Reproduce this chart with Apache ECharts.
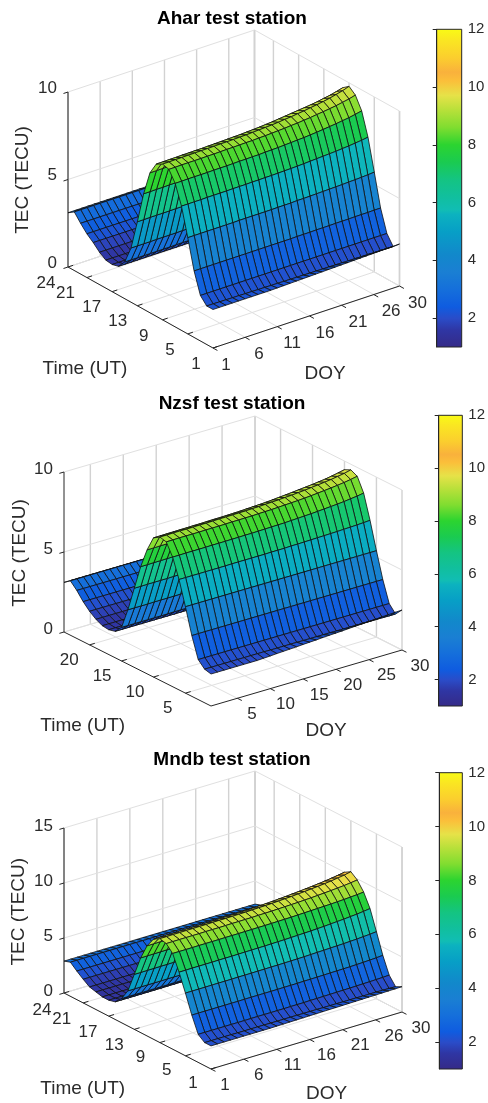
<!DOCTYPE html>
<html><head><meta charset="utf-8">
<style>html,body{margin:0;padding:0;background:#fff}#c{width:488px;height:1103px}</style>
<script src="https://cdn.jsdelivr.net/npm/echarts@6/dist/echarts.min.js"></script>
</head><body><div id="c"></div>
<script>
// TEC by hour (rows, 1..24 UT) and day of year (columns, 1..30)
const doyValues = [1,2,3,4,5,6,7,8,9,10,11,12,13,14,15,16,17,18,19,20,21,22,23,24,25,26,27,28,29,30];
const timeValues = [1,2,3,4,5,6,7,8,9,10,11,12,13,14,15,16,17,18,19,20,21,22,23,24];
const tecAhar = [
[2.2,2.2,2.2,2.2,2.2,2.2,2.2,2.2,2.2,2.2,2.21,2.22,2.23,2.24,2.25,2.26,2.27,2.28,2.29,2.3,2.31,2.32,2.33,2.34,2.35,2.36,2.37,2.38,2.39,2.4],
[2.2,2.2,2.19,2.19,2.18,2.18,2.17,2.17,2.16,2.16,2.15,2.15,2.14,2.14,2.13,2.13,2.12,2.12,2.11,2.11,2.1,2.1,2.09,2.09,2.08,2.08,2.07,2.07,2.06,2.05],
[2.6,2.6,2.6,2.6,2.6,2.6,2.6,2.6,2.6,2.6,2.6,2.6,2.6,2.6,2.6,2.6,2.6,2.6,2.6,2.6,2.6,2.6,2.6,2.6,2.6,2.6,2.6,2.6,2.6,2.6],
[3.8,3.8,3.8,3.8,3.8,3.8,3.8,3.8,3.8,3.8,3.8,3.8,3.8,3.8,3.8,3.8,3.81,3.81,3.81,3.82,3.82,3.82,3.83,3.83,3.83,3.84,3.84,3.84,3.85,3.85],
[5.5,5.5,5.5,5.5,5.5,5.5,5.5,5.5,5.51,5.51,5.51,5.51,5.51,5.51,5.52,5.52,5.52,5.54,5.54,5.55,5.56,5.57,5.58,5.59,5.6,5.62,5.63,5.65,5.67,5.7],
[7.1,7.1,7.1,7.1,7.11,7.11,7.11,7.11,7.12,7.12,7.12,7.13,7.13,7.14,7.14,7.15,7.16,7.17,7.18,7.2,7.22,7.24,7.26,7.28,7.3,7.33,7.36,7.4,7.44,7.5],
[8.2,8.2,8.21,8.21,8.21,8.21,8.22,8.22,8.22,8.23,8.24,8.24,8.25,8.25,8.27,8.28,8.29,8.31,8.33,8.35,8.37,8.4,8.43,8.47,8.51,8.55,8.6,8.65,8.72,8.8],
[8.8,8.8,8.81,8.81,8.81,8.81,8.82,8.82,8.83,8.84,8.84,8.85,8.86,8.86,8.88,8.89,8.91,8.93,8.95,8.98,9,9.04,9.07,9.12,9.16,9.21,9.26,9.33,9.4,9.5],
[8.9,8.9,8.91,8.91,8.92,8.92,8.93,8.93,8.94,8.95,8.95,8.96,8.97,8.98,9,9.02,9.04,9.06,9.09,9.13,9.16,9.21,9.25,9.31,9.36,9.42,9.49,9.58,9.67,9.8],
[8.7,8.7,8.71,8.71,8.72,8.72,8.73,8.73,8.74,8.75,8.76,8.77,8.78,8.79,8.81,8.83,8.85,8.88,8.91,8.95,8.99,9.03,9.07,9.11,9.15,9.2,9.27,9.33,9.42,9.52],
[8,8,8.01,8.01,8.02,8.02,8.03,8.03,8.04,8.05,8.06,8.07,8.08,8.09,8.11,8.13,8.15,8.18,8.21,8.25,8.29,8.34,8.39,8.45,8.51,8.58,8.66,8.75,8.86,8.95],
[6.6,6.6,6.61,6.61,6.62,6.62,6.63,6.63,6.64,6.65,6.65,6.66,6.67,6.68,6.7,6.72,6.74,6.76,6.79,6.83,6.86,6.91,6.95,7.01,7.06,7.12,7.19,7.28,7.37,7.5],
[4.8,4.8,4.81,4.81,4.81,4.81,4.82,4.82,4.83,4.84,4.84,4.85,4.86,4.86,4.88,4.89,4.91,4.93,4.95,4.98,5,5.04,5.07,5.12,5.16,5.21,5.26,5.33,5.4,5.5],
[3.1,3.1,3.1,3.1,3.11,3.11,3.11,3.11,3.12,3.12,3.12,3.13,3.13,3.14,3.14,3.15,3.16,3.17,3.18,3.2,3.22,3.24,3.26,3.28,3.3,3.33,3.36,3.4,3.44,3.5],
[2.1,2.1,2.1,2.1,2.1,2.1,2.1,2.1,2.11,2.11,2.11,2.11,2.11,2.11,2.12,2.12,2.12,2.14,2.14,2.15,2.16,2.17,2.18,2.19,2.2,2.22,2.23,2.25,2.27,2.3],
[1.65,1.65,1.65,1.65,1.65,1.65,1.65,1.65,1.65,1.65,1.65,1.65,1.65,1.65,1.65,1.66,1.66,1.67,1.67,1.68,1.68,1.69,1.69,1.7,1.7,1.71,1.72,1.73,1.74,1.75],
[1.55,1.55,1.55,1.55,1.55,1.55,1.55,1.55,1.55,1.55,1.55,1.55,1.55,1.55,1.55,1.55,1.55,1.55,1.55,1.55,1.55,1.55,1.55,1.55,1.55,1.55,1.55,1.55,1.55,1.55],
[1.6,1.6,1.6,1.6,1.6,1.6,1.6,1.6,1.6,1.6,1.6,1.6,1.6,1.6,1.6,1.6,1.6,1.6,1.6,1.6,1.6,1.6,1.6,1.6,1.6,1.6,1.6,1.6,1.6,1.6],
[1.85,1.85,1.85,1.85,1.85,1.85,1.85,1.85,1.85,1.85,1.85,1.85,1.85,1.85,1.85,1.85,1.85,1.85,1.85,1.85,1.85,1.85,1.85,1.85,1.85,1.85,1.85,1.85,1.85,1.85],
[2.2,2.2,2.2,2.2,2.2,2.2,2.2,2.2,2.2,2.2,2.2,2.2,2.2,2.2,2.2,2.2,2.2,2.2,2.2,2.2,2.2,2.2,2.2,2.2,2.2,2.2,2.2,2.2,2.2,2.2],
[2.5,2.5,2.5,2.5,2.5,2.5,2.5,2.5,2.5,2.5,2.5,2.5,2.5,2.5,2.5,2.5,2.5,2.5,2.5,2.5,2.5,2.5,2.5,2.5,2.5,2.5,2.5,2.5,2.5,2.5],
[2.9,2.9,2.9,2.9,2.9,2.9,2.9,2.9,2.9,2.9,2.9,2.9,2.9,2.9,2.9,2.9,2.9,2.9,2.9,2.9,2.9,2.9,2.9,2.9,2.9,2.9,2.9,2.9,2.9,2.9],
[3.35,3.35,3.35,3.35,3.35,3.35,3.35,3.35,3.35,3.35,3.35,3.35,3.35,3.35,3.35,3.35,3.35,3.35,3.35,3.35,3.35,3.35,3.35,3.35,3.35,3.35,3.35,3.35,3.35,3.35],
[3.1,3.1,3.1,3.1,3.1,3.1,3.1,3.1,3.1,3.1,3.1,3.1,3.1,3.1,3.1,3.1,3.1,3.1,3.1,3.1,3.1,3.1,3.1,3.1,3.1,3.1,3.1,3.1,3.1,3.1]
];
const tecNzsf = [
[2,2,2,2,2,2,2,2,2.02,2.04,2.07,2.09,2.11,2.13,2.16,2.18,2.2,2.23,2.25,2.27,2.29,2.32,2.34,2.36,2.39,2.41,2.44,2.46,2.48,2.5],
[2.1,2.1,2.1,2.1,2.1,2.1,2.1,2.1,2.1,2.1,2.09,2.09,2.09,2.09,2.09,2.08,2.08,2.08,2.08,2.08,2.07,2.07,2.07,2.07,2.07,2.06,2.06,2.06,2.05,2.05],
[2.5,2.5,2.5,2.5,2.5,2.5,2.5,2.5,2.5,2.5,2.5,2.5,2.5,2.5,2.5,2.5,2.5,2.5,2.5,2.5,2.5,2.5,2.5,2.5,2.5,2.5,2.5,2.5,2.5,2.5],
[3.8,3.8,3.8,3.8,3.8,3.8,3.8,3.8,3.8,3.8,3.8,3.8,3.8,3.8,3.8,3.8,3.8,3.8,3.8,3.8,3.8,3.8,3.8,3.8,3.8,3.8,3.8,3.8,3.8,3.8],
[5.4,5.4,5.4,5.4,5.4,5.4,5.4,5.4,5.4,5.4,5.4,5.4,5.4,5.4,5.4,5.4,5.4,5.4,5.4,5.4,5.4,5.4,5.4,5.4,5.4,5.4,5.4,5.4,5.4,5.4],
[6.9,6.9,6.9,6.9,6.9,6.9,6.9,6.9,6.91,6.91,6.91,6.91,6.91,6.91,6.92,6.92,6.92,6.94,6.94,6.95,6.96,6.97,6.98,6.99,7,7.02,7.03,7.05,7.07,7.1],
[8.1,8.1,8.11,8.11,8.11,8.11,8.12,8.12,8.12,8.13,8.13,8.14,8.14,8.15,8.16,8.17,8.18,8.19,8.21,8.23,8.25,8.27,8.3,8.33,8.36,8.39,8.43,8.48,8.53,8.6],
[8.85,8.85,8.86,8.86,8.86,8.86,8.87,8.87,8.87,8.88,8.89,8.89,8.9,8.9,8.92,8.93,8.94,8.96,8.98,9,9.02,9.05,9.08,9.12,9.16,9.2,9.25,9.3,9.37,9.45],
[8.95,8.95,8.96,8.96,8.96,8.96,8.97,8.97,8.98,8.99,8.99,9,9.01,9.01,9.03,9.04,9.06,9.08,9.1,9.13,9.15,9.19,9.22,9.27,9.31,9.36,9.41,9.48,9.55,9.65],
[8.7,8.7,8.71,8.71,8.72,8.72,8.73,8.73,8.74,8.75,8.75,8.76,8.77,8.78,8.8,8.82,8.84,8.86,8.89,8.93,8.96,9,9.04,9.08,9.12,9.17,9.22,9.29,9.37,9.46],
[7.75,7.75,7.76,7.76,7.77,7.77,7.78,7.78,7.79,7.8,7.81,7.82,7.83,7.84,7.86,7.88,7.9,7.93,7.96,8,8.04,8.09,8.14,8.2,8.26,8.33,8.41,8.5,8.61,8.75],
[6.5,6.5,6.51,6.51,6.52,6.52,6.53,6.53,6.54,6.55,6.55,6.56,6.57,6.58,6.6,6.62,6.64,6.66,6.69,6.73,6.76,6.81,6.85,6.91,6.96,7.02,7.09,7.18,7.27,7.4],
[4.95,4.95,4.96,4.96,4.96,4.96,4.97,4.97,4.98,4.99,4.99,5,5.01,5.01,5.03,5.04,5.06,5.08,5.1,5.13,5.15,5.19,5.22,5.27,5.31,5.36,5.41,5.48,5.55,5.65],
[3.4,3.4,3.4,3.4,3.41,3.41,3.41,3.41,3.42,3.42,3.42,3.43,3.43,3.44,3.44,3.45,3.46,3.47,3.48,3.5,3.52,3.54,3.56,3.58,3.6,3.63,3.66,3.7,3.74,3.8],
[2.1,2.1,2.1,2.1,2.1,2.1,2.1,2.1,2.11,2.11,2.11,2.11,2.11,2.11,2.12,2.12,2.12,2.14,2.14,2.15,2.16,2.17,2.18,2.19,2.2,2.22,2.23,2.25,2.27,2.3],
[1.65,1.65,1.65,1.65,1.65,1.65,1.65,1.65,1.65,1.65,1.65,1.65,1.65,1.65,1.65,1.66,1.66,1.67,1.67,1.68,1.68,1.69,1.69,1.7,1.7,1.71,1.72,1.73,1.74,1.75],
[1.55,1.55,1.55,1.55,1.55,1.55,1.55,1.55,1.55,1.55,1.55,1.55,1.55,1.55,1.55,1.55,1.55,1.55,1.55,1.55,1.55,1.55,1.55,1.55,1.55,1.55,1.55,1.55,1.55,1.55],
[1.6,1.6,1.6,1.6,1.6,1.6,1.6,1.6,1.6,1.6,1.6,1.6,1.6,1.6,1.6,1.6,1.6,1.6,1.6,1.6,1.6,1.6,1.6,1.6,1.6,1.6,1.6,1.6,1.6,1.6],
[1.8,1.8,1.8,1.8,1.8,1.8,1.8,1.8,1.8,1.8,1.8,1.8,1.8,1.8,1.8,1.8,1.8,1.8,1.8,1.8,1.8,1.8,1.8,1.8,1.8,1.8,1.8,1.8,1.8,1.8],
[2.1,2.1,2.1,2.1,2.1,2.1,2.1,2.1,2.1,2.1,2.1,2.1,2.1,2.1,2.1,2.1,2.1,2.1,2.1,2.1,2.1,2.1,2.1,2.1,2.1,2.1,2.1,2.1,2.1,2.1],
[2.5,2.5,2.5,2.5,2.5,2.5,2.5,2.5,2.5,2.5,2.5,2.5,2.5,2.5,2.5,2.5,2.5,2.5,2.5,2.5,2.5,2.5,2.5,2.5,2.5,2.5,2.5,2.5,2.5,2.5],
[3,3,3,3,3,3,3,3,3,3,3,3,3,3,3,3,3,3,3,3,3,3,3,3,3,3,3,3,3,3],
[3.4,3.4,3.4,3.4,3.4,3.4,3.4,3.4,3.4,3.4,3.4,3.4,3.4,3.4,3.4,3.4,3.4,3.4,3.4,3.4,3.4,3.4,3.4,3.4,3.4,3.4,3.4,3.4,3.4,3.4],
[3.1,3.1,3.1,3.1,3.1,3.1,3.1,3.1,3.1,3.1,3.1,3.1,3.1,3.1,3.1,3.1,3.1,3.1,3.1,3.1,3.1,3.1,3.1,3.1,3.1,3.1,3.1,3.1,3.1,3.1]
];
const tecMndb = [
[2.1,2.1,2.1,2.1,2.1,2.1,2.1,2.1,2.1,2.1,2.11,2.12,2.13,2.14,2.15,2.16,2.17,2.18,2.19,2.2,2.21,2.22,2.23,2.24,2.25,2.26,2.27,2.28,2.29,2.3],
[2.1,2.1,2.1,2.1,2.1,2.09,2.09,2.09,2.09,2.09,2.08,2.08,2.08,2.08,2.08,2.07,2.07,2.07,2.06,2.06,2.06,2.05,2.05,2.05,2.04,2.04,2.04,2.03,2.02,2],
[2.55,2.55,2.55,2.55,2.55,2.55,2.55,2.55,2.56,2.56,2.56,2.56,2.56,2.56,2.57,2.57,2.57,2.59,2.59,2.6,2.61,2.62,2.63,2.64,2.65,2.67,2.68,2.7,2.72,2.75],
[4,4,4,4,4,4,4,4,4.01,4.01,4.01,4.01,4.01,4.01,4.02,4.02,4.02,4.04,4.04,4.05,4.06,4.07,4.08,4.09,4.1,4.12,4.14,4.17,4.2,4.25],
[5.7,5.7,5.7,5.7,5.71,5.71,5.71,5.71,5.72,5.72,5.72,5.73,5.73,5.74,5.74,5.75,5.76,5.77,5.78,5.8,5.82,5.84,5.86,5.88,5.9,5.93,5.96,6,6.04,6.1],
[7.3,7.3,7.31,7.31,7.31,7.31,7.32,7.32,7.32,7.33,7.34,7.34,7.35,7.35,7.37,7.38,7.39,7.41,7.43,7.45,7.47,7.5,7.53,7.57,7.61,7.65,7.7,7.75,7.82,7.9],
[8.7,8.7,8.7,8.7,8.71,8.71,8.71,8.71,8.72,8.72,8.72,8.73,8.73,8.74,8.74,8.75,8.76,8.77,8.78,8.8,8.82,8.84,8.86,8.88,8.9,8.93,8.96,9,9.04,9.1],
[9.3,9.3,9.31,9.31,9.31,9.31,9.32,9.32,9.32,9.33,9.34,9.34,9.35,9.35,9.37,9.38,9.39,9.41,9.43,9.45,9.47,9.5,9.53,9.57,9.61,9.65,9.7,9.75,9.82,9.9],
[9.45,9.45,9.46,9.46,9.47,9.47,9.48,9.48,9.49,9.5,9.5,9.51,9.52,9.53,9.55,9.57,9.59,9.61,9.64,9.68,9.71,9.76,9.8,9.86,9.91,9.97,10.04,10.13,10.22,10.35],
[9.1,9.1,9.11,9.11,9.12,9.12,9.13,9.13,9.14,9.15,9.16,9.17,9.18,9.19,9.21,9.23,9.25,9.28,9.31,9.35,9.39,9.44,9.49,9.54,9.6,9.66,9.73,9.81,9.9,10],
[8.2,8.2,8.21,8.21,8.22,8.22,8.24,8.24,8.25,8.26,8.27,8.28,8.3,8.31,8.33,8.36,8.38,8.42,8.45,8.5,8.55,8.61,8.67,8.74,8.81,8.9,8.99,9.1,9.23,9.4],
[6.8,6.8,6.81,6.81,6.82,6.82,6.83,6.83,6.84,6.85,6.87,6.88,6.89,6.9,6.92,6.94,6.97,7,7.03,7.08,7.12,7.17,7.23,7.3,7.36,7.44,7.53,7.63,7.75,7.9],
[5,5,5.01,5.01,5.02,5.02,5.03,5.03,5.04,5.05,5.05,5.06,5.07,5.08,5.1,5.12,5.14,5.16,5.19,5.23,5.26,5.31,5.35,5.41,5.46,5.52,5.59,5.68,5.77,5.9],
[3.2,3.2,3.21,3.21,3.21,3.21,3.22,3.22,3.22,3.23,3.24,3.24,3.25,3.25,3.27,3.28,3.29,3.31,3.33,3.35,3.37,3.4,3.43,3.47,3.51,3.55,3.6,3.65,3.72,3.8],
[2.2,2.2,2.2,2.2,2.2,2.2,2.2,2.2,2.21,2.21,2.21,2.21,2.21,2.21,2.22,2.22,2.22,2.24,2.25,2.26,2.27,2.29,2.3,2.32,2.33,2.35,2.37,2.4,2.44,2.5],
[1.6,1.6,1.6,1.6,1.6,1.6,1.6,1.6,1.61,1.61,1.61,1.61,1.61,1.61,1.62,1.62,1.62,1.64,1.64,1.65,1.66,1.67,1.68,1.69,1.7,1.72,1.73,1.75,1.77,1.8],
[1.45,1.45,1.45,1.45,1.45,1.45,1.45,1.45,1.45,1.45,1.45,1.45,1.45,1.45,1.45,1.45,1.45,1.45,1.45,1.45,1.45,1.45,1.45,1.45,1.45,1.45,1.45,1.45,1.45,1.45],
[1.45,1.45,1.45,1.45,1.45,1.45,1.45,1.45,1.45,1.45,1.45,1.45,1.45,1.45,1.45,1.45,1.45,1.45,1.45,1.45,1.45,1.45,1.45,1.45,1.45,1.45,1.45,1.45,1.45,1.45],
[1.6,1.6,1.6,1.6,1.6,1.6,1.6,1.6,1.6,1.6,1.6,1.6,1.6,1.6,1.6,1.6,1.6,1.6,1.6,1.6,1.6,1.6,1.6,1.6,1.6,1.6,1.6,1.6,1.6,1.6],
[1.75,1.75,1.75,1.75,1.75,1.75,1.75,1.75,1.75,1.75,1.75,1.75,1.75,1.75,1.75,1.75,1.75,1.75,1.75,1.75,1.75,1.75,1.75,1.75,1.75,1.75,1.75,1.75,1.75,1.75],
[2.15,2.15,2.15,2.15,2.15,2.15,2.15,2.15,2.15,2.15,2.15,2.15,2.15,2.15,2.15,2.15,2.15,2.15,2.15,2.15,2.15,2.15,2.15,2.15,2.15,2.15,2.15,2.15,2.15,2.15],
[2.6,2.6,2.6,2.6,2.6,2.6,2.6,2.6,2.6,2.6,2.6,2.6,2.6,2.6,2.6,2.6,2.6,2.6,2.6,2.6,2.6,2.6,2.6,2.6,2.6,2.6,2.6,2.6,2.6,2.6],
[3.1,3.1,3.1,3.1,3.1,3.1,3.1,3.1,3.1,3.1,3.1,3.1,3.1,3.1,3.1,3.1,3.1,3.1,3.1,3.1,3.1,3.1,3.1,3.1,3.1,3.1,3.1,3.1,3.1,3.1],
[2.9,2.9,2.9,2.9,2.9,2.9,2.9,2.9,2.9,2.9,2.9,2.9,2.9,2.9,2.9,2.9,2.9,2.9,2.9,2.9,2.9,2.9,2.9,2.9,2.9,2.9,2.9,2.9,2.9,2.9]
];
const stationTitles = ['Ahar test station','Nzsf test station','Mndb test station'];
const doyTicksDense = [1,6,11,16,21,26,30];
const timeTicksDense = [1,5,9,13,17,21,24];
const doyTicksRound = [5,10,15,20,25,30];
const timeTicksRound = [5,10,15,20];
const tecTicksShort = [0,5,10];
const tecTicksTall = [0,5,10,15];
const colorbarTicks = [2,4,6,8,10,12];
const cmapValues = [1,1.6,2,2.4,3,3.6,4.2,5,5.6,5.75,6.2,6.8,7.4,8,8.6,9.2,9.7,10.2,10.5,11,11.6,12];
const cmapColors = ['#352a87','#2f36a4','#2a4cc8','#0f5ce0','#156fdb','#1a7fd3','#1288cb','#079fc6','#0cb2bf','#11bdb4','#11bf9e','#14c482','#1acb50','#2cd430','#80dd30','#b8e03a','#e6e248','#fbbf3a','#f9b13c','#fbce2e','#fae622','#f9fb15'];

const layouts = [
 {top:0,h:390,L:[68,267],F:[213,348],R:[399.5,286],zu:17.5,zMax:10,titleY:9,zT:tecTicksShort,dT:doyTicksDense,tT:timeTicksDense,
  zOff:[-11,-4],tOff:[-17,16,-22,16],dOff:[13,17,18,17],names:[[85,369],[325,374],[22.7,180]],
  bar:[436.7,29.3,25,317.7]},
 {top:390,h:355,L:[64,632],F:[211,706],R:[402,650],zu:16,zMax:10,titleY:394,zT:tecTicksShort,dT:doyTicksRound,tT:timeTicksRound,
  zOff:[-11,-3],tOff:[-17,15,-21,16],dOff:[14,16,18,16],names:[[82.7,725.7],[326,730.7],[19.3,553]],
  bar:[438.7,415.3,24.6,290.7]},
 {top:745,h:358,L:[64,993],F:[211,1069],R:[402,1012],zu:11,zMax:15,titleY:750,zT:tecTicksTall,dT:doyTicksDense,tT:timeTicksDense,
  zOff:[-11,-2],tOff:[-18,14,-22,17],dOff:[14,16,19,16],names:[[82.7,1089],[326.7,1094],[18.3,911.7]],
  bar:[439.3,772.7,25.7,296.3]}
];
const tecData = [tecAhar,tecNzsf,tecMndb];
const FONT = '"Liberation Sans",Arial,sans-serif';
const INK = '#2b2b2b';

function hex(c){return [parseInt(c.slice(1,3),16),parseInt(c.slice(3,5),16),parseInt(c.slice(5,7),16)];}
function colorOf(v){
  if(v<=cmapValues[0])return cmapColors[0];
  for(let i=1;i<cmapValues.length;i++){
    if(v<=cmapValues[i]){
      const k=(v-cmapValues[i-1])/(cmapValues[i]-cmapValues[i-1]),a=hex(cmapColors[i-1]),b=hex(cmapColors[i]);
      return 'rgb('+a.map((x,j)=>Math.round(x+(b[j]-x)*k)).join(',')+')';
    }
  }
  return cmapColors[cmapColors.length-1];
}
function projector(lay){
  const dN=doyValues[doyValues.length-1]-doyValues[0],tN=timeValues[timeValues.length-1]-timeValues[0];
  return function(d,t,z){
    const a=(d-doyValues[0])/dN,b=(t-timeValues[0])/tN;
    return [lay.F[0]+a*(lay.R[0]-lay.F[0])+b*(lay.L[0]-lay.F[0]),
            lay.F[1]+a*(lay.R[1]-lay.F[1])+b*(lay.L[1]-lay.F[1])-z*lay.zu];
  };
}

const grid=[],xAxis=[],yAxis=[],series=[],title=[];
layouts.forEach(function(lay,i){
  const P=projector(lay),Z=tecData[i];
  const g=grid.length;
  grid.push({left:0,top:lay.top,width:488,height:lay.h,show:false});
  xAxis.push({type:'value',gridIndex:g,min:0,max:488,show:false});
  yAxis.push({type:'value',gridIndex:g,min:lay.top,max:lay.top+lay.h,inverse:true,show:false});
  title.push({text:stationTitles[i],left:232,top:lay.titleY,textAlign:'center',padding:0,
    textStyle:{fontFamily:FONT,fontSize:19,fontWeight:'bold',color:'#000'}});

  // walls and floor
  const W=[];
  const zm=lay.zMax;
  lay.dT.forEach(function(d){
    W.push([d,24,0,d,24,zm,'v']);
    W.push([d,1,0,d,24,0,'f']);
  });
  lay.tT.forEach(function(t){
    W.push([30,t,0,30,t,zm,'v']);
    W.push([1,t,0,30,t,0,'f']);
  });
  W.push([30,24,0,30,24,zm,'v'],[30,1,0,30,1,zm,'v']);
  W.push([1,24,0,30,24,0,'f'],[30,1,0,30,24,0,'f']);
  lay.zT.forEach(function(z){
    W.push([1,24,z,30,24,z,'f']);
    W.push([30,24,z,30,1,z,'f']);
  });
  const kinds={v:['#d2d2d2',1.4],f:['#e0e0e0',1]};
  series.push({type:'custom',xAxisIndex:g,yAxisIndex:g,silent:true,animation:false,z:1,data:W.map(function(_,k){return [k];}),
    renderItem:function(p,api){
      const s=W[p.dataIndex],a=api.coord(P(s[0],s[1],s[2])),b=api.coord(P(s[3],s[4],s[5])),k=kinds[s[6]];
      return {type:'line',shape:{x1:a[0],y1:a[1],x2:b[0],y2:b[1]},style:{stroke:k[0],lineWidth:k[1]}};
    }});

  // axes and ticks
  const A=[[1,24,0,1,24,zm],[1,24,0,1,1,0],[1,1,0,30,1,0]];
  lay.zT.forEach(function(z){A.push([1,24,z,0.3,24,z]);});
  lay.tT.forEach(function(t){A.push([1,t,0,1.8,t,0]);});
  lay.dT.forEach(function(d){A.push([d,1,0,d,0.3,0]);});
  series.push({type:'custom',xAxisIndex:g,yAxisIndex:g,silent:true,animation:false,z:2,data:A.map(function(_,k){return [k];}),
    renderItem:function(p,api){
      const s=A[p.dataIndex],a=api.coord(P(s[0],s[1],s[2])),b=api.coord(P(s[3],s[4],s[5]));
      return {type:'line',shape:{x1:a[0],y1:a[1],x2:b[0],y2:b[1]},style:{stroke:'#262626',lineWidth:1}};
    }});

  // surface, back to front; each facet takes the colour of its first corner
  const cells=[];
  for(let t=timeValues.length-2;t>=0;t--)for(let d=doyValues.length-2;d>=0;d--)cells.push([doyValues[d],timeValues[t],Z[t][d],d,t]);
  series.push({type:'custom',xAxisIndex:g,yAxisIndex:g,silent:true,animation:false,z:3,data:cells,
    renderItem:function(p,api){
      const d=api.value(3),t=api.value(4);
      const pts=[[d,t],[d+1,t],[d+1,t+1],[d,t+1]].map(function(c){
        return api.coord(P(doyValues[c[0]],timeValues[c[1]],Z[c[1]][c[0]]));
      });
      return {type:'polygon',shape:{points:pts},style:{fill:colorOf(api.value(2)),stroke:'#101010',lineWidth:0.8,lineJoin:'round'}};
    }});

  // tick labels and axis names
  const T=[];
  lay.zT.forEach(function(z){T.push([1,24,z,lay.zOff[0],lay.zOff[1],String(z),'right',17,0]);});
  lay.tT.forEach(function(t){
    const k=(t-1)/23;
    T.push([1,t,0,lay.tOff[0]+k*(lay.tOff[2]-lay.tOff[0]),lay.tOff[1]+k*(lay.tOff[3]-lay.tOff[1]),String(t),'center',17,0]);
  });
  lay.dT.forEach(function(d){
    const k=(d-1)/29;
    T.push([d,1,0,lay.dOff[0]+k*(lay.dOff[2]-lay.dOff[0]),lay.dOff[1]+k*(lay.dOff[3]-lay.dOff[1]),String(d),'center',17,0]);
  });
  series.push({type:'custom',xAxisIndex:g,yAxisIndex:g,silent:true,animation:false,z:4,data:T.map(function(_,k){return [k];}),
    renderItem:function(p,api){
      const s=T[p.dataIndex],a=api.coord(P(s[0],s[1],s[2]));
      return {type:'text',x:a[0]+s[3],y:a[1]+s[4],style:{text:s[5],fill:INK,font:s[7]+'px '+FONT,align:s[6],verticalAlign:'middle'}};
    }});
  const N=[['Time (UT)',lay.names[0],0],['DOY',lay.names[1],0],['TEC (TECU)',lay.names[2],Math.PI/2]];
  series.push({type:'custom',xAxisIndex:g,yAxisIndex:g,silent:true,animation:false,z:4,data:N.map(function(_,k){return [k];}),
    renderItem:function(p,api){
      const s=N[p.dataIndex],a=api.coord(s[1]);
      return {type:'text',x:a[0],y:a[1],rotation:s[2],style:{text:s[0],fill:INK,font:'19px '+FONT,align:'center',verticalAlign:'middle'}};
    }});

  // colour bar
  const c=grid.length,b=lay.bar;
  grid.push({left:b[0],top:b[1],width:b[2],height:b[3],show:false});
  xAxis.push({type:'value',gridIndex:c,min:0,max:1,show:false});
  yAxis.push({type:'value',gridIndex:c,min:1,max:12,position:'right',z:6,
    axisLine:{show:true,lineStyle:{color:'#262626',width:1}},
    axisTick:{show:true,inside:true,length:4,customValues:colorbarTicks,lineStyle:{color:'#262626',width:1}},
    axisLabel:{show:true,customValues:colorbarTicks,margin:6,color:INK,fontFamily:FONT,fontSize:15},
    splitLine:{show:false}});
  const stops=cmapValues.map(function(v,k){return {offset:(12-v)/11,color:cmapColors[k]};}).reverse();
  series.push({type:'custom',xAxisIndex:c,yAxisIndex:c,silent:true,animation:false,z:2,data:[[0,12,1,1]],
    renderItem:function(p,api){
      const a=api.coord([api.value(0),api.value(1)]),e=api.coord([api.value(2),api.value(3)]);
      return {type:'rect',shape:{x:a[0],y:a[1],width:e[0]-a[0],height:e[1]-a[1]},
        style:{fill:new echarts.graphic.LinearGradient(0,0,0,1,stops),stroke:'#262626',lineWidth:1}};
    }});
});

const chart=echarts.init(document.getElementById('c'),null,{width:488,height:1103});
chart.setOption({backgroundColor:'#fff',animation:false,title:title,grid:grid,xAxis:xAxis,yAxis:yAxis,series:series});
</script></body></html>
